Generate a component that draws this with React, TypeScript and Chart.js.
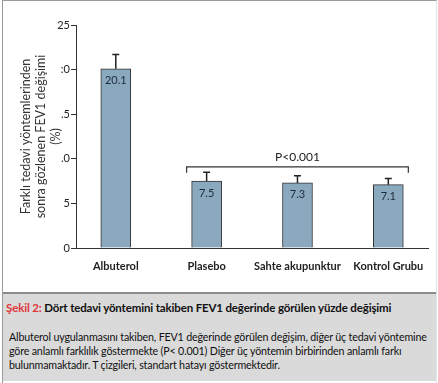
import React, { useEffect, useRef } from "react";
import { Chart, registerables } from "chart.js";

Chart.register(...registerables);

const categories = ["Albuterol", "Plasebo", "Sahte akupunktur", "Kontrol Grubu"];
const values = [20.1, 7.5, 7.3, 7.1];
const errors = [1.6, 1.0, 0.8, 0.7];
const yTickValues = [0, 5, 10, 15, 20, 25];
const yTickLabels = ["0", "5", ".0", ".5", ":0", "25"];
const yTitle = ["Farklı tedavi yöntemlerinden", "sonra gözlenen FEV1 değişimi", "(%)"];
const bracketLabel = "P<0.001";
const bracketValue = 9.1;
const bracketFrom = 1;
const bracketTo = 3;

const FONT = "Lato, 'Open Sans', sans-serif";

const overlayPlugin = {
  id: "overlay",
  afterDatasetsDraw(chart: any) {
    const ctx = chart.ctx;
    const meta = chart.getDatasetMeta(0);
    const ys = chart.scales.y;
    ctx.save();
    meta.data.forEach((bar: any, i: number) => {
      const x = bar.x;
      const top = bar.y;
      const errTop = ys.getPixelForValue(values[i] + errors[i]);
      ctx.strokeStyle = "#222";
      ctx.lineWidth = 1.5;
      ctx.beginPath();
      ctx.moveTo(x, top);
      ctx.lineTo(x, errTop);
      ctx.moveTo(x - 3.5, errTop);
      ctx.lineTo(x + 3.5, errTop);
      ctx.stroke();
      ctx.fillStyle = "#1c2b3a";
      ctx.font = "11px " + FONT;
      ctx.textAlign = "center";
      ctx.textBaseline = "middle";
      ctx.fillText(String(values[i]), x, top + 12);
    });
    const x1 = meta.data[bracketFrom].x - 20;
    const x2 = meta.data[bracketTo].x + 20;
    const by = ys.getPixelForValue(bracketValue);
    ctx.strokeStyle = "#333";
    ctx.lineWidth = 1.2;
    ctx.beginPath();
    ctx.moveTo(x1, by + 6);
    ctx.lineTo(x1, by);
    ctx.lineTo(x2, by);
    ctx.lineTo(x2, by + 6);
    ctx.stroke();
    ctx.fillStyle = "#222";
    ctx.font = "12px " + FONT;
    ctx.textAlign = "center";
    ctx.textBaseline = "middle";
    ctx.fillText(bracketLabel, (x1 + x2) / 2, by - 10);
    ctx.restore();
  },
};

export default function App() {
  const ref = useRef<HTMLCanvasElement>(null);
  useEffect(() => {
    const chart = new Chart(ref.current as HTMLCanvasElement, {
      type: "bar",
      data: {
        datasets: [
          {
            data: values.map((v, i) => ({ x: i, y: v })),
            backgroundColor: "#8aa8be",
            borderColor: "#333",
            borderWidth: 1,
            barThickness: 30,
          },
        ],
      },
      options: {
        animation: false,
        responsive: false,
        maintainAspectRatio: false,
        layout: { padding: { top: 24, right: 6, left: 0, bottom: 0 } },
        plugins: { legend: { display: false }, tooltip: { enabled: false } },
        scales: {
          x: {
            type: "linear",
            offset: false,
            min: -0.438,
            max: 3.44,
            grid: { display: false, drawTicks: false },
            border: { display: true, color: "#333", width: 1 },
            afterBuildTicks: (s: any) => {
              s.ticks = categories.map((_, i) => ({ value: i }));
            },
            afterFit: (s: any) => {
              s.height = 44;
            },
            ticks: {
              autoSkip: false,
              maxRotation: 0,
              padding: 12,
              color: "#222",
              font: { family: FONT, size: 11, weight: "bold" },
              callback: (v: any) => categories[v] ?? "",
            },
          },
          y: {
            min: 0,
            max: 25,
            afterBuildTicks: (s: any) => {
              s.ticks = yTickValues.map((v) => ({ value: v }));
            },
            afterFit: (s: any) => {
              s.width = 73;
            },
            grid: { drawOnChartArea: false, tickLength: 5, color: "#333" },
            border: { display: true, color: "#333", width: 1 },
            ticks: {
              padding: 1,
              color: "#222",
              font: { family: FONT, size: 11 },
              callback: (v: any, i: number) => yTickLabels[i],
            },
            title: {
              display: true,
              text: yTitle,
              color: "#333",
              font: { family: FONT, size: 12.5, lineHeight: 1.2 },
              padding: { top: 15, bottom: 0 },
            },
          },
        },
      },
      plugins: [overlayPlugin],
    } as any);
    return () => chart.destroy();
  }, []);

  return (
    <div
      style={{
        position: "absolute",
        left: 2,
        top: 0,
        width: 433,
        height: 382,
        borderLeft: "1px solid #9a9a9a",
        borderTop: "1px solid #9a9a9a",
        borderRight: "1px solid #e4e4e4",
        background: "#fff",
        overflow: "hidden",
        fontFamily: FONT,
      }}
    >
      <canvas ref={ref} width={433} height={291} style={{ display: "block" }} />
      <div
        style={{
          height: 89,
          background: "#dadada",
          borderTop: "2px solid #8c8c8c",
          padding: "6px 2px 0 3px",
          boxSizing: "border-box",
          color: "#111",
        }}
      >
        <div style={{ fontSize: 11.5, fontWeight: "bold", lineHeight: "15px", letterSpacing: -0.15, whiteSpace: "nowrap" }}>
          <span style={{ color: "#e0363c" }}>Şekil 2:</span> Dört tedavi yöntemini takiben FEV1 değerinde görülen yüzde değişimi
        </div>
        <div style={{ fontSize: 10.7, lineHeight: "14px", marginTop: 15, paddingLeft: 3, letterSpacing: -0.17 }}>
          Albuterol uygulanmasını takiben, FEV1 değerinde görülen değişim, diğer üç tedavi yöntemine göre anlamlı farklılık göstermekte (P&lt; 0.001) Diğer üç yöntemin birbirinden anlamlı farkı bulunmamaktadır. T çizgileri, standart hatayı göstermektedir.
        </div>
      </div>
    </div>
  );
}
